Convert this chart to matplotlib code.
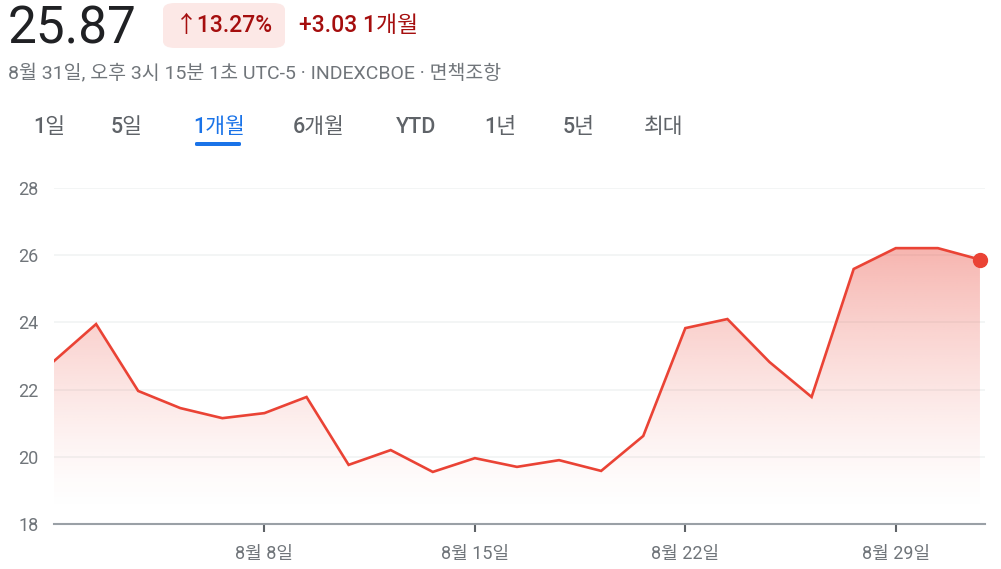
import numpy as np
import matplotlib.pyplot as plt
from matplotlib.patches import FancyBboxPatch, Polygon

plt.rcParams['font.family'] = ['Roboto', 'Noto Sans CJK KR', 'DejaVu Sans']

# trading days Aug 1 .. Aug 31
values = [22.85, 23.95, 21.96, 21.45, 21.15, 21.30, 21.78, 19.76, 20.20, 19.55,
          19.96, 19.70, 19.90, 19.58, 20.62, 23.83, 24.10, 22.82, 21.78, 25.59,
          26.21, 26.21, 25.87]
tick_idx = [5, 10, 15, 20]
tick_labels = ["8월 8일", "8월 15일", "8월 22일", "8월 29일"]
y_ticks = [18, 20, 22, 24, 26, 28]
tabs = ["1일", "5일", "1개월", "6개월", "YTD", "1년", "5년", "최대"]
tab_x = [33, 111, 193, 293, 396, 484, 563, 644]

RED = "#ea4335"
W, H = 1001, 569

fig = plt.figure(figsize=(W / 100, H / 100), dpi=100)

def fx(px):
    return px / W

def fy(py):
    return 1 - py / H

# header
fig.text(fx(8), fy(30), "25.87", fontsize=37, color="#202124", va="center")
badge = FancyBboxPatch((fx(163), fy(48)), fx(122), 45 / H,
                       boxstyle="round,pad=0,rounding_size=0.012",
                       transform=fig.transFigure, fc="#fce8e6", ec="none")
fig.patches.append(badge)
fig.text(fx(224), fy(26), "↑13.27%", fontsize=16.5, color="#a50e0e",
         ha="center", va="center", fontweight="medium")
fig.text(fx(299), fy(26), "+3.03 1개월", fontsize=16.5, color="#a50e0e",
         va="center", fontweight="medium")
fig.text(fx(8), fy(73), "8월 31일, 오후 3시 15분 1초 UTC-5 · INDEXCBOE · 면책조항",
         fontsize=14, color="#70757a", va="center")

for lab, x in zip(tabs, tab_x):
    c = "#1a73e8" if lab == "1개월" else "#5f6368"
    fig.text(fx(x), fy(127), lab, fontsize=15.5, color=c, va="center",
             fontweight="medium")
under = FancyBboxPatch((fx(195), fy(146)), fx(46), 4 / H,
                       boxstyle="round,pad=0,rounding_size=0.002",
                       transform=fig.transFigure, fc="#1a73e8", ec="none")
fig.patches.append(under)

# chart
ax = fig.add_axes([fx(54), fy(524), fx(931), 336 / H])
x = np.arange(len(values))
ax.set_xlim(0, 22.12)
ax.set_ylim(18, 28)

# gradient fill under the line
grad = np.zeros((300, 2, 4))
grad[..., 0] = 234 / 255
grad[..., 1] = 67 / 255
grad[..., 2] = 53 / 255
ys = np.linspace(28, 18, 300)
alpha = np.clip((ys - 18.3) / (26.3 - 18.3), 0, 1) ** 1.4 * 0.40
grad[..., 3] = alpha[:, None]
img = ax.imshow(grad, extent=[0, 22, 18, 28], aspect="auto", zorder=1,
                interpolation="bilinear")
poly = Polygon(np.vstack([np.column_stack([x, values]), [[22, 18], [0, 18]]]),
               closed=True, transform=ax.transData, fc="none", ec="none")
ax.add_patch(poly)
img.set_clip_path(poly)

ax.plot(x, values, color=RED, lw=1.9, zorder=3, solid_joinstyle="miter")
ax.plot([x[-1]], [values[-1]], "o", color=RED, ms=10, zorder=4, clip_on=False)

for s in ["top", "right", "left"]:
    ax.spines[s].set_visible(False)
ax.spines["bottom"].set_color("#9aa0a6")
ax.spines["bottom"].set_linewidth(1.5)

ax.set_yticks(y_ticks)
ax.set_yticklabels([str(v) for v in y_ticks])
ax.tick_params(axis="y", length=0, pad=11, labelsize=13, labelcolor="#70757a")
for v in y_ticks[1:]:
    ax.axhline(v, color="#f1f3f4", lw=1.2, zorder=0)

ax.set_xticks(tick_idx)
ax.set_xticklabels(tick_labels)
ax.tick_params(axis="x", length=6, width=1.5, color="#5f6368", pad=9,
               labelsize=13, labelcolor="#70757a")

fig.savefig("out.png", dpi=100)
